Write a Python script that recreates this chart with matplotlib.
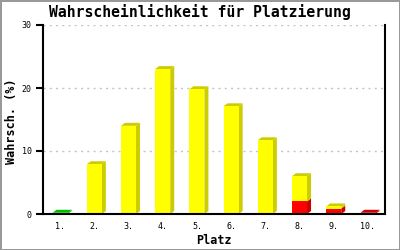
import matplotlib
matplotlib.use("Agg")
import matplotlib.pyplot as plt
from matplotlib.patches import Polygon

# data
places = ["1.", "2.", "3.", "4.", "5.", "6.", "7.", "8.", "9.", "10."]
red_vals = [0, 0, 0, 0, 0, 0, 0, 2.0, 0.85, 0.2]
yellow_vals = [0, 7.9, 14.0, 23.0, 19.8, 17.1, 11.7, 4.0, 0.35, 0]
green_vals = [0.2, 0, 0, 0, 0, 0, 0, 0, 0, 0]

series = [
    (red_vals, "#ff0000", "#cc0000"),
    (yellow_vals, "#ffff00", "#cccc00"),
    (green_vals, "#00ee00", "#00bb00"),
]

mono = "DejaVu Sans Mono"

fig = plt.figure(figsize=(4, 2.5), dpi=100)
fig.patch.set_facecolor("white")
fig.patch.set_edgecolor("#999999")
fig.patch.set_linewidth(2)
ax = fig.add_axes([0.1075, 0.144, 0.855, 0.756])

x = list(range(1, len(places) + 1))
w = 0.44
dx, dy = 0.117, 0.47  # 3d depth offset

bottoms = [0.0] * len(places)
tops = [sum(v) for v in zip(red_vals, yellow_vals, green_vals)]
for vals, face, dark in series:
    ax.bar(x, vals, width=w, bottom=bottoms, color=face, linewidth=0, zorder=3)
    for i, v in enumerate(vals):
        if v <= 0:
            continue
        b = bottoms[i]
        xr = x[i] + w / 2
        xl = x[i] - w / 2
        side = [(xr, b), (xr + dx, b + dy), (xr + dx, b + v + dy), (xr, b + v)]
        ax.add_patch(Polygon(side, closed=True, color=dark, lw=0, zorder=2))
        if abs(b + v - tops[i]) < 1e-9:
            top = [(xl, b + v), (xl + dx, b + v + dy), (xr + dx, b + v + dy), (xr, b + v)]
            ax.add_patch(Polygon(top, closed=True, color=dark, lw=0, zorder=2))
    bottoms = [b + v for b, v in zip(bottoms, vals)]

ax.set_xlim(0.5, len(places) + 0.5)
ax.set_ylim(0, 30)
ax.set_yticks([0, 10, 20, 30])
ax.set_xticks(x)
ax.set_xticklabels(places)
ax.tick_params(axis="x", length=0, pad=6)
ax.tick_params(axis="y", length=5, width=1.5, direction="out", pad=3)
for lab in ax.get_xticklabels() + ax.get_yticklabels():
    lab.set_fontfamily(mono)
    lab.set_fontsize(6)

for yv in [10, 20, 30]:
    ax.axhline(yv, color="#c4c4c4", lw=1, linestyle=(0, (1.5, 3)), zorder=1)

ax.spines["top"].set_visible(False)
for s in ["left", "right", "bottom"]:
    ax.spines[s].set_linewidth(1.5)
    ax.spines[s].set_zorder(4)

fig.text(0.535, 0.04, "Platz", ha="center", va="center",
         fontfamily=mono, fontweight="bold", fontsize=8.5)
fig.text(0.03, 0.516, "Wahrsch. (%)", ha="center", va="center", rotation=90,
         fontfamily=mono, fontweight="bold", fontsize=8.5)
fig.text(0.499, 0.932, "Wahrscheinlichkeit für Platzierung", ha="center", va="baseline",
         fontfamily=mono, fontweight="bold", fontsize=10.6)

fig.savefig("out.png", dpi=100, facecolor=fig.get_facecolor(), edgecolor=fig.get_edgecolor())
